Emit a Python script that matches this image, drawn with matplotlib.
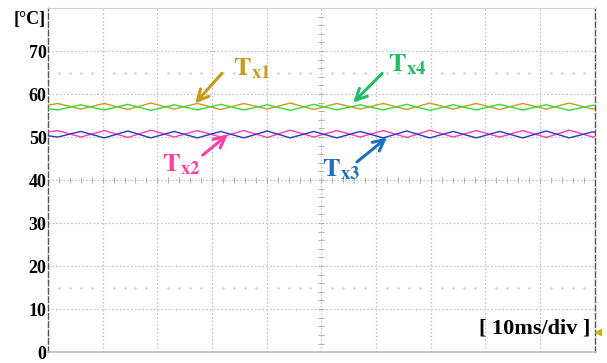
import matplotlib
matplotlib.use('Agg')
import matplotlib.pyplot as plt

plt.rcParams['mathtext.fontset'] = 'stix'

# --- data (time in ms, temperature in degC) ---
t_vert = [0, 1.8, 6.0, 10.3, 14.6, 18.8, 23.1, 27.3, 31.6, 35.8, 40.1, 44.3, 48.6,
          52.8, 57.1, 61.3, 65.6, 69.8, 74.1, 78.3, 82.6, 86.8, 91.1, 95.3, 99.6, 100]
tx1 = [57.4, 57.8, 56.5, 57.8, 56.4, 57.9, 56.5, 57.8, 56.4, 57.8, 56.5, 57.9, 56.4,
       57.8, 56.5, 57.8, 56.4, 57.9, 56.5, 57.8, 56.4, 57.8, 56.5, 57.9, 56.5, 56.6]
tx4 = [56.6, 56.3, 57.5, 56.3, 57.6, 56.2, 57.5, 56.3, 57.6, 56.3, 57.5, 56.2, 57.6,
       56.3, 57.5, 56.3, 57.6, 56.2, 57.5, 56.3, 57.6, 56.3, 57.5, 56.2, 57.4, 57.3]
tx2 = [51.2, 51.5, 50.0, 51.5, 49.9, 51.6, 50.0, 51.5, 50.0, 51.5, 49.9, 51.6, 50.0,
       51.5, 50.0, 51.5, 49.9, 51.6, 50.0, 51.5, 50.0, 51.5, 49.9, 51.6, 50.0, 50.1]
tx3 = [50.3, 50.0, 51.3, 49.8, 51.4, 49.8, 51.3, 49.8, 51.3, 49.8, 51.4, 49.8, 51.3,
       49.8, 51.3, 49.8, 51.4, 49.8, 51.3, 49.8, 51.3, 49.8, 51.4, 49.8, 51.2, 51.1]

yticks = [0, 10, 20, 30, 40, 50, 60, 70]
colors = {'x1': '#c89a1e', 'x2': '#ff3fa8', 'x3': '#1f6fc0', 'x4': '#22bb66'}

fig = plt.figure(figsize=(6.07, 3.63), dpi=100)
ax = fig.add_axes([0.079, 0.030, 0.901, 0.948])
ax.set_xlim(0, 100)
ax.set_ylim(0, 80)

# graticule
grid_kw = dict(color='#c8c8c8', lw=0.9, ls=(0, (1.5, 1.5)), zorder=1)
for x in range(10, 100, 10):
    ax.axvline(x, **grid_kw)
for y in range(10, 80, 10):
    ax.axhline(y, **grid_kw)
# dotted rows at 65 and 15
for y in (15, 65):
    ax.plot([xx for xx in range(2, 100, 2) if xx % 10], [y] * 40, ls='none',
            marker='s', ms=0.8, color='#d0d0d0', zorder=1)
# centre cross ticks
ax.plot([xx for xx in range(2, 100, 2)], [40] * 49, ls='none', marker='|',
        ms=4, mew=0.7, color='#b0b0b0', zorder=1)
ax.plot([50] * 39, [yy for yy in range(2, 80, 2)], ls='none', marker='_',
        ms=4, mew=0.7, color='#b0b0b0', zorder=1)

for sp in ('left', 'right'):
    ax.spines[sp].set_linestyle((0, (4, 2)))
    ax.spines[sp].set_color('#555555')
    ax.spines[sp].set_linewidth(1.0)
ax.spines['top'].set_color('#cfcfcf')
ax.spines['bottom'].set_color('#bdbdbd')
ax.spines['bottom'].set_linewidth(1.2)

ax.plot(t_vert, tx1, color=colors['x1'], lw=1.0, zorder=3)
ax.plot(t_vert, tx4, color='#33dd33', lw=1.0, zorder=3)
ax.plot(t_vert, tx2, color=colors['x2'], lw=1.0, zorder=3)
ax.plot(t_vert, tx3, color='#3333cc', lw=1.0, zorder=3)

ax.set_xticks([])
ax.set_yticks(yticks)
ax.set_yticklabels([str(v) for v in yticks], family='Liberation Serif',
                   fontweight='bold', fontsize=13)
ax.tick_params(axis='y', length=0, pad=1)
fig.text(0.076, 0.945, '[°C]', ha='right', va='center', family='Liberation Serif',
         fontweight='bold', fontsize=13)

# annotations
labels = [
    ('x1', (33.8, 66.0), (31.8, 64.8), (26.9, 57.8)),
    ('x4', (62.2, 66.8), (61.1, 64.8), (55.8, 58.0)),
    ('x2', (20.8, 43.7), (28.3, 45.8), (32.9, 50.6)),
    ('x3', (50.1, 42.4), (56.5, 44.2), (62.0, 49.9)),
]
for key, txy, tail, head in labels:
    c = colors[key]
    ax.text(txy[0], txy[1], r'$\mathbf{T}_{\mathbf{%s}}$' % key, color=c,
            fontsize=19, ha='left', va='center', zorder=5)
    ax.annotate('', xy=head, xytext=tail,
                arrowprops=dict(arrowstyle='->,head_length=0.8,head_width=0.4',
                                color=c, lw=2.2, shrinkA=0, shrinkB=0), zorder=5)

ax.text(99.2, 5.5, '[ 10ms/div ]', ha='right', va='center', family='Liberation Serif',
        fontweight='bold', fontsize=16, zorder=5)
ax.plot([100.6], [4.6], marker='<', ms=4, color='#c8b400', clip_on=False, zorder=6)

fig.savefig('out.png', dpi=100)
